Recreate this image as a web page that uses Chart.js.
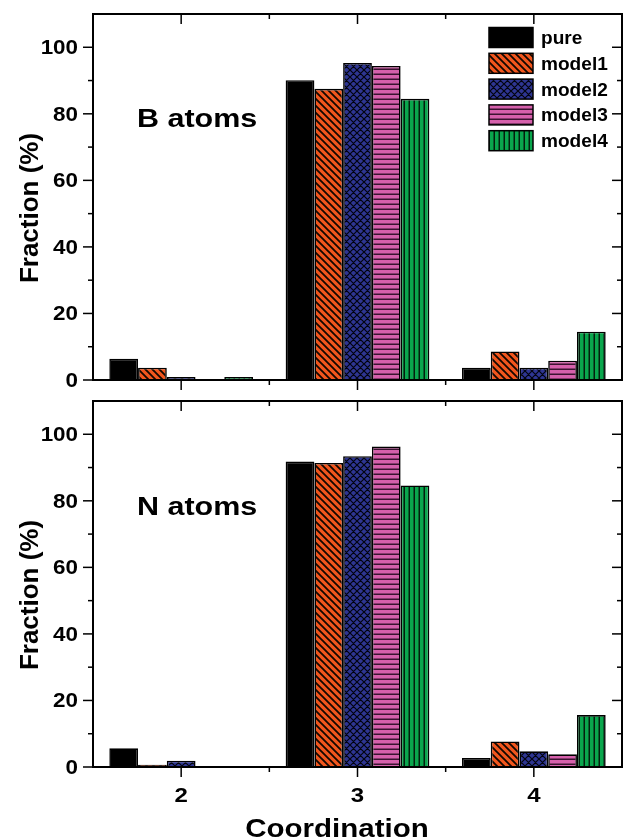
<!DOCTYPE html>
<html>
<head>
<meta charset="utf-8">
<script src="https://cdn.jsdelivr.net/npm/chart.js@4.4.1/dist/chart.umd.min.js"></script>
<style>
  html, body { margin: 0; padding: 0; background: #fff; }
  #wrap { position: relative; width: 632px; height: 839px; }
  canvas { position: absolute; left: 0; }
</style>
</head>
<body>
<div id="wrap">
  <canvas id="chartB" width="632" height="395" style="top:0;width:632px;height:395px"></canvas>
  <canvas id="chartN" width="632" height="444" style="top:395px;width:632px;height:444px"></canvas>
</div>
<script>
// categories and series
const coordination = ["2", "3", "4"];
const seriesNames = ["pure", "model1", "model2", "model3", "model4"];

// B atoms (top panel)
const bPure = [6.4, 90.1, 3.7];
const bModel1 = [3.7, 87.5, 8.6];
const bModel2 = [0.9, 95.3, 3.7];
const bModel3 = [0, 94.4, 5.8];
const bModel4 = [0.9, 84.5, 14.5];

// N atoms (bottom panel)
const nPure = [5.6, 91.8, 2.7];
const nModel1 = [0.7, 91.4, 7.7];
const nModel2 = [1.9, 93.4, 4.7];
const nModel3 = [0, 96.3, 3.8];
const nModel4 = [0, 84.6, 15.6];

const yTicks = [0, 20, 40, 60, 80, 100];
const yMinorTicks = [10, 30, 50, 70, 90];

const FONT = "'Liberation Sans', Arial, sans-serif";

// hatch fills, like the origin plot
function makePattern(kind, bg, fg) {
  const s = kind === "diag" || kind === "cross" ? 7 : 5;
  const c = document.createElement("canvas");
  c.width = s;
  c.height = s;
  const g = c.getContext("2d");
  g.fillStyle = bg;
  g.fillRect(0, 0, s, s);
  g.strokeStyle = fg;
  g.lineWidth = kind === "cross" ? 1.2 : kind === "diag" ? 1.8 : 1.5;
  g.beginPath();
  if (kind === "diag" || kind === "cross") {
    for (let k = -1; k <= 1; k++) {
      g.moveTo(k * s - 1, -1);
      g.lineTo(k * s + s + 1, s + 1);
      if (kind === "cross") {
        g.moveTo(k * s - 1, s + 1);
        g.lineTo(k * s + s + 1, -1);
      }
    }
  } else if (kind === "horiz") {
    g.moveTo(0, s - 0.75);
    g.lineTo(s, s - 0.75);
  } else if (kind === "vert") {
    g.moveTo(s - 0.75, 0);
    g.lineTo(s - 0.75, s);
  }
  g.stroke();
  return g.createPattern(c, "repeat");
}

const fills = [
  "#000000",
  makePattern("diag", "#f2561d", "#140800"),
  makePattern("cross", "#2e3592", "#03040f"),
  makePattern("horiz", "#d560ab", "#3a1330"),
  makePattern("vert", "#0aa64d", "#03200e"),
];

// origin fonts look a bit wide, so stretch text sideways
function stretchText(ctx, text, x, y, size, sx, align) {
  ctx.save();
  ctx.font = "bold " + size + "px " + FONT;
  ctx.textAlign = align;
  ctx.textBaseline = "alphabetic";
  ctx.translate(x, y);
  ctx.scale(sx, 1);
  ctx.fillText(text, 0, 0);
  ctx.restore();
}

const frameAxes = {
  id: "frameAxes",
  afterDatasetsDraw(chart, args, opts) {
    const { ctx, chartArea: a, scales: { x, y } } = chart;
    const line = (x1, y1, x2, y2) => {
      ctx.beginPath();
      ctx.moveTo(x1, y1);
      ctx.lineTo(x2, y2);
      ctx.stroke();
    };
    ctx.save();
    ctx.strokeStyle = "#000";
    ctx.lineWidth = 2;
    ctx.strokeRect(a.left, a.top, a.right - a.left, a.bottom - a.top);

    ctx.lineWidth = 1.5;
    yTicks.forEach((v) => {
      const py = y.getPixelForValue(v);
      line(a.left - 10, py, a.left, py);
      line(a.right, py, a.right - 10, py);
    });
    yMinorTicks.forEach((v) => {
      const py = y.getPixelForValue(v);
      line(a.left - 5, py, a.left, py);
      line(a.right, py, a.right - 5, py);
    });
    coordination.forEach((c, i) => {
      const px = x.getPixelForValue(i);
      line(px, a.bottom, px, a.bottom + 10);
      line(px, a.top, px, a.top + 10);
    });
    for (let i = 0; i < coordination.length - 1; i++) {
      const px = (x.getPixelForValue(i) + x.getPixelForValue(i + 1)) / 2;
      line(px, a.bottom, px, a.bottom + 5);
      line(px, a.top, px, a.top + 5);
    }

    ctx.fillStyle = "#000";
    yTicks.forEach((v) => stretchText(ctx, String(v), a.left - 15, y.getPixelForValue(v) + 7, 20, 1.12, "right"));

    // y title
    ctx.save();
    ctx.translate(31, (a.top + a.bottom) / 2 + 11);
    ctx.rotate(-Math.PI / 2);
    ctx.textAlign = "center";
    ctx.textBaseline = "middle";
    ctx.font = "bold 26px " + FONT;
    ctx.fillText("Fraction (%)", 0, 0);
    ctx.restore();

    // panel label
    stretchText(ctx, opts.panelLabel, 137, a.top + opts.labelOffset, 25, 1.22, "left");

    if (opts.xLabels) {
      coordination.forEach((c, i) => stretchText(ctx, c, x.getPixelForValue(i), a.bottom + 35, 20, 1.2, "center"));
      stretchText(ctx, "Coordination", 337, a.bottom + 70, 25, 1.18, "center");
    }

    if (opts.legend) {
      chart.data.datasets.forEach((ds, i) => {
        const cy = 37.5 + i * 25.8;
        ctx.fillStyle = ds.backgroundColor;
        ctx.fillRect(489, cy - 10, 44, 20);
        ctx.lineWidth = 1.5;
        ctx.strokeRect(489, cy - 10, 44, 20);
        ctx.fillStyle = "#000";
        stretchText(ctx, ds.label, 541, cy + 6.5, 18, 1.06, "left");
      });
    }
    ctx.restore();
  },
};

function buildChart(id, series, padding, extra) {
  return new Chart(document.getElementById(id), {
    type: "bar",
    data: {
      labels: coordination,
      datasets: series.map((vals, i) => ({
        label: seriesNames[i],
        data: vals,
        backgroundColor: fills[i],
        borderColor: "#000",
        borderWidth: 1.6,
        categoryPercentage: 0.815,
        barPercentage: 1,
      })),
    },
    options: {
      responsive: false,
      animation: false,
      layout: { padding },
      plugins: {
        legend: { display: false },
        tooltip: { enabled: false },
        frameAxes: extra,
      },
      scales: {
        x: { display: false, offset: true },
        y: { display: false, min: 0, max: 110 },
      },
    },
    plugins: [frameAxes],
  });
}

buildChart(
  "chartB",
  [bPure, bModel1, bModel2, bModel3, bModel4],
  { left: 93, right: 10, top: 14, bottom: 15 },
  { panelLabel: "B atoms", labelOffset: 113, legend: true, xLabels: false }
);
buildChart(
  "chartN",
  [nPure, nModel1, nModel2, nModel3, nModel4],
  { left: 93, right: 10, top: 6, bottom: 72 },
  { panelLabel: "N atoms", labelOffset: 114, legend: false, xLabels: true }
);
</script>
</body>
</html>
